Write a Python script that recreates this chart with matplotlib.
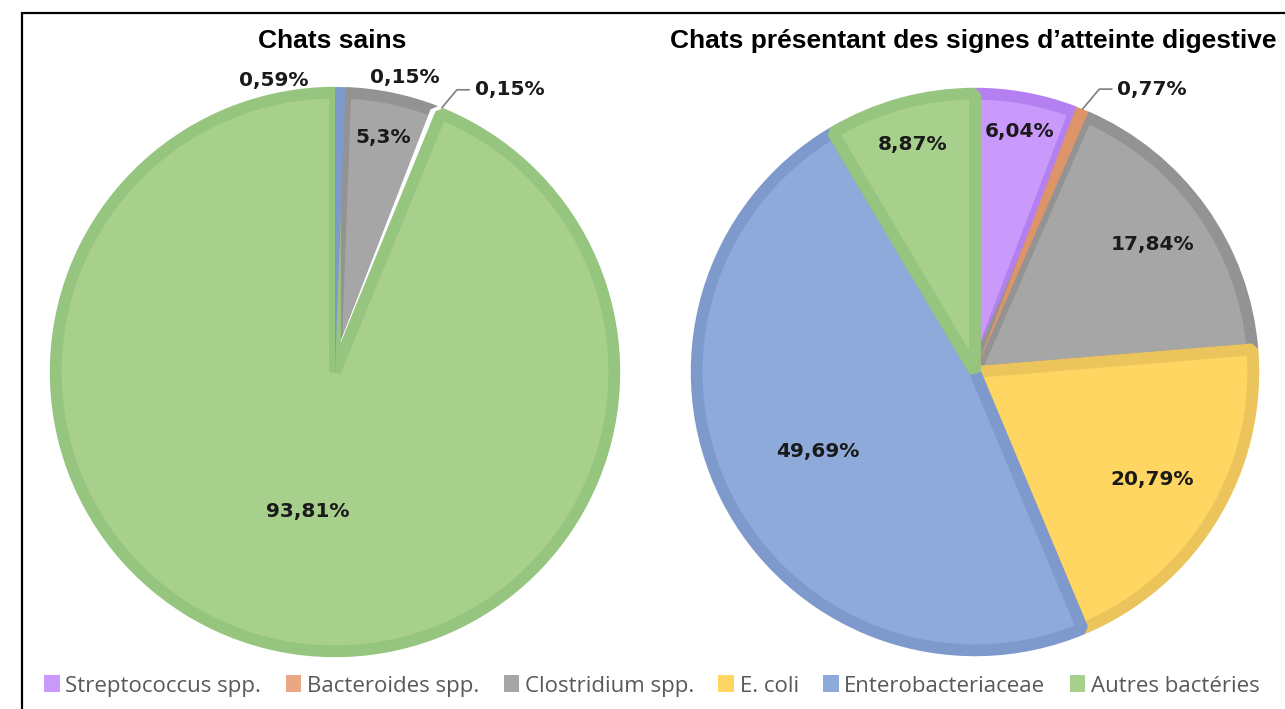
import numpy as np
import matplotlib.pyplot as plt
from matplotlib.patches import Patch, Rectangle

# categories (legend order)
categories = ["Streptococcus spp.", "Bacteroides spp.", "Clostridium spp.",
              "E. coli", "Enterobacteriaceae", "Autres bactéries"]

# healthy cats, clockwise from 12 o'clock
sains_cats = ["Enterobacteriaceae", "Clostridium spp.", "Streptococcus spp.",
              "Bacteroides spp.", "Autres bactéries"]
sains_vals = [0.59, 5.3, 0.15, 0.15, 93.81]
sains_txt = ["0,59%", "5,3%", "0,15%", "0,15%", "93,81%"]

# cats with digestive signs, clockwise from 12 o'clock
dig_cats = ["Streptococcus spp.", "Bacteroides spp.", "Clostridium spp.",
            "E. coli", "Enterobacteriaceae", "Autres bactéries"]
dig_vals = [6.04, 0.77, 17.84, 20.79, 49.69, 8.87]
dig_txt = ["6,04%", "0,77%", "17,84%", "20,79%", "49,69%", "8,87%"]

fill = {"Streptococcus spp.": "#c999fb", "Bacteroides spp.": "#eba783",
        "Clostridium spp.": "#a6a6a6", "E. coli": "#ffd661",
        "Enterobacteriaceae": "#8eaadb", "Autres bactéries": "#a8d08d"}
edge = {"Streptococcus spp.": "#b47ff0", "Bacteroides spp.": "#dc9468",
        "Clostridium spp.": "#939393", "E. coli": "#ebc45c",
        "Enterobacteriaceae": "#7e9acc", "Autres bactéries": "#96c57f"}

W, H = 1285, 709
fig = plt.figure(figsize=(W / 100, H / 100), dpi=100)

# frame
fig.add_artist(Rectangle((22 / W, -0.1), 1.2, (H - 13) / H + 0.1,
                         transform=fig.transFigure, fill=False,
                         edgecolor="black", linewidth=1.6))


def draw_pie(cx, cy, r, cats, vals, txt, inside, outside):
    ax = fig.add_axes([(cx - r) / W, (H - cy - r) / H, 2 * r / W, 2 * r / H])
    fc = [fill[c] for c in cats]
    ec = [edge[c] if v > 0.5 else "white" for c, v in zip(cats, vals)]
    wedges, _ = ax.pie(vals, colors=fc, startangle=90, counterclock=False,
                       radius=0.98,
                       wedgeprops=dict(linewidth=8.5, joinstyle="bevel"))
    for w, e, v in zip(wedges, ec, vals):
        w.set_edgecolor(e)
        if 0.5 < v < 1:
            # thin slices: plain sliver on top of the neighbours' borders
            w.set_zorder(3)
            w.set_facecolor(e)
            w.set_linewidth(0)
            w.set_radius(1.0)
    ax.set_xlim(-1, 1)
    ax.set_ylim(-1, 1)
    ax.set_aspect("equal")
    ax.axis("off")
    total = sum(vals)
    cum = 0
    for i, v in enumerate(vals):
        mid = (cum + v / 2) / total * 2 * np.pi
        cum += v
        sx, sy = np.sin(mid), np.cos(mid)
        if i in inside:
            d = inside[i]
            ax.text(d * sx, d * sy, txt[i], ha="center", va="center",
                    fontsize=14.5, fontweight="bold", color="#1a1a1a", zorder=5)
        else:
            off, leader = outside[i]
            ax.annotate(txt[i], xy=(sx, sy), xytext=off,
                        textcoords="offset pixels", ha="left", va="center",
                        fontsize=14.5, fontweight="bold", color="#1a1a1a",
                        arrowprops=dict(arrowstyle="-", color="#7f7f7f", lw=1.2,
                                        connectionstyle="angle,angleA=0,angleB=50,rad=0",
                                        shrinkA=2, shrinkB=0) if leader else None,
                        annotation_clip=False, zorder=5)
    return ax


draw_pie(335, 372, 285, sains_cats, sains_vals, sains_txt,
         inside={1: 0.84, 4: 0.5},
         outside={0: ((-101, 7), False), 2: ((-69, 29), False),
                  3: ((33, 18), True)})
draw_pie(975, 372, 284, dig_cats, dig_vals, dig_txt,
         inside={0: 0.86, 2: 0.77, 3: 0.73, 4: 0.62, 5: 0.83},
         outside={1: ((35, 20), True)})

fig.text(332 / W, 1 - 41 / H, "Chats sains", ha="center", va="center",
         fontsize=19, fontweight="bold", family="Liberation Sans")
fig.text(973 / W, 1 - 41 / H, "Chats présentant des signes d’atteinte digestive",
         ha="center", va="center", fontsize=19, fontweight="bold",
         family="Liberation Sans")

handles = [Patch(facecolor=fill[c], edgecolor="none") for c in categories]
leg = fig.legend(handles, categories, loc="center", bbox_to_anchor=(652 / W, 1 - 686 / H),
                 ncol=6, frameon=False, handlelength=0.7, handleheight=0.8,
                 handletextpad=0.25, columnspacing=1.1,
                 prop={"family": "Open Sans", "size": 16})
for t in leg.get_texts():
    t.set_color("#595959")

fig.savefig("out.png", dpi=100)
